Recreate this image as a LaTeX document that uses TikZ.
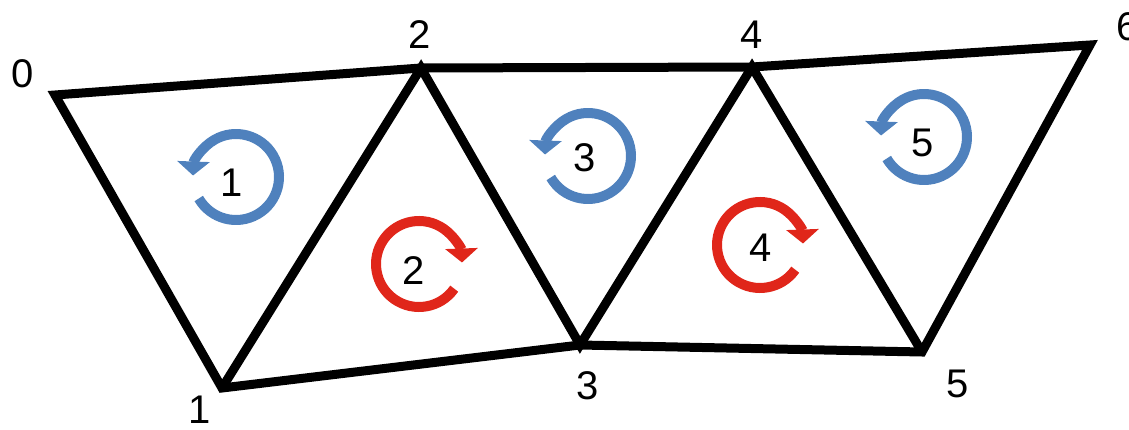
\documentclass[tikz,border=0pt]{standalone}
\usepackage{fontspec}
\setmainfont{Liberation Sans}
\usetikzlibrary{arrows.meta}
\definecolor{ringblue}{RGB}{79,129,189}
\definecolor{ringred}{RGB}{224,38,26}
\tikzset{
  edge/.style={line width=9pt, line join=miter, black},
  lab/.style={font=\fontsize{40}{44}\selectfont, inner sep=0pt, anchor=center},
  ringbase/.style={line width=10pt, -{Triangle[width=32pt,length=14pt]}},
  bluering/.style={ringbase, ringblue},
  redring/.style={ringbase, ringred},
  ccwring/.pic={\draw[bluering, yscale=-1] (210:43) arc[start angle=210, end angle=538, radius=43];},
  cwring/.pic={\draw[redring, yscale=-1] (-35:43) arc[start angle=-35, end angle=-358, radius=43];}
}
\begin{document}
\begin{tikzpicture}[x=1pt, y=-1pt]
\useasboundingbox (0,0) rectangle (1129,430);
\coordinate (v0) at (55,95);
\coordinate (v1) at (222,388);
\coordinate (v2) at (421,68);
\coordinate (v3) at (580,345);
\coordinate (v4) at (752,67);
\coordinate (v5) at (922,352);
\coordinate (v6) at (1090,45);
\draw[edge] (v0) -- (v2) -- (v4) -- (v6) -- (v5) -- (v3) -- (v1) -- cycle;
\draw[edge] (v1) -- (v2) -- (v3) -- (v4) -- (v5);
% vertex labels
\node[lab] (l0) at (23,74) {0};
\node[lab] (l1) at (200,410) {1};
\node[lab] (l2) at (420,35) {2};
\node[lab] (l3) at (588,386) {3};
\node[lab] (l4) at (752,35) {4};
\node[lab] (l5) at (958,384) {5};
\node[lab] (l6) at (1128,27) {6};
% face rings
\pic at (236,177) {ccwring};
\pic at (419,264) {cwring};
\pic at (588,156) {ccwring};
\pic at (760,245) {cwring};
\pic at (924,137) {ccwring};
% face labels
\node[lab] (f1) at (232,183) {1};
\node[lab] (f2) at (414,271) {2};
\node[lab] (f3) at (585,158) {3};
\node[lab] (f4) at (761,248) {4};
\node[lab] (f5) at (923,143) {5};
\end{tikzpicture}
\end{document}
